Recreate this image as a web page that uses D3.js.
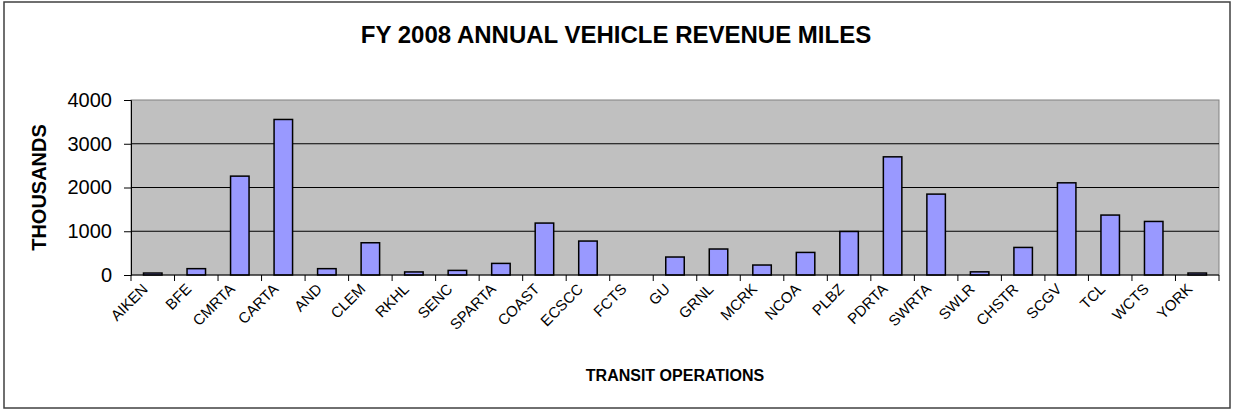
<!DOCTYPE html>
<html>
<head>
<meta charset="utf-8">
<script src="https://cdn.jsdelivr.net/npm/d3@7"></script>
<style>
  body { margin: 0; background: #fff; }
  text { font-family: Arial, "Liberation Sans", sans-serif; }
</style>
</head>
<body>
<div id="chart"></div>
<script>
// Data
const operators = ["AIKEN", "BFE", "CMRTA", "CARTA", "AND", "CLEM", "RKHL", "SENC", "SPARTA", "COAST",
  "ECSCC", "FCTS", "GU", "GRNL", "MCRK", "NCOA", "PLBZ", "PDRTA", "SWRTA", "SWLR",
  "CHSTR", "SCGV", "TCL", "WCTS", "YORK"];
const miles = [45, 145, 2260, 3555, 145, 737, 70, 105, 265, 1187,
  776, 0, 411, 594, 228, 516, 995, 2701, 1849, 72,
  630, 2107, 1370, 1224, 45];
const yTicks = [0, 1000, 2000, 3000, 4000];

const W = 1233, H = 411;
const margin = { top: 100, right: 14, bottom: 136, left: 131 },
      width = W - margin.left - margin.right,
      height = H - margin.top - margin.bottom;

const root = d3.select("#chart")
  .append("svg")
  .attr("width", W)
  .attr("height", H);

// outer frame
root.append("rect")
  .attr("x", 4).attr("y", 2)
  .attr("width", 1226).attr("height", 406)
  .attr("fill", "none")
  .attr("stroke", "#404040")
  .attr("stroke-width", 1.5);

root.append("text")
  .attr("x", 616).attr("y", 43)
  .attr("text-anchor", "middle")
  .attr("font-weight", "bold")
  .attr("font-size", 24)
  .text("FY 2008 ANNUAL VEHICLE REVENUE MILES");

const svg = root.append("g")
  .attr("transform", "translate(" + margin.left + "," + margin.top + ")");

const x = d3.scaleBand()
  .domain(operators)
  .range([0, width])
  .paddingInner(0.575)
  .paddingOuter(0.2875);

const y = d3.scaleLinear()
  .domain([0, 4000])
  .range([height, 0]);

// plot background
svg.append("rect")
  .attr("width", width)
  .attr("height", height)
  .attr("fill", "#c0c0c0")
  .attr("stroke", "#808080")
  .attr("stroke-width", 1);

// gridlines
svg.selectAll("line.grid")
  .data(yTicks.filter(d => d > 0 && d < 4000))
  .enter()
  .append("line")
  .attr("class", "grid")
  .attr("x1", 0).attr("x2", width)
  .attr("y1", d => y(d)).attr("y2", d => y(d))
  .attr("stroke", "#000")
  .attr("stroke-width", 1);

svg.selectAll("rect.bar")
  .data(miles)
  .enter()
  .append("rect")
  .attr("class", "bar")
  .attr("x", (d, i) => x(operators[i]))
  .attr("y", d => y(d))
  .attr("width", x.bandwidth())
  .attr("height", d => height - y(d))
  .attr("fill", "#9999ff")
  .attr("stroke", "#000")
  .attr("stroke-width", 1.5);

// y axis
const yAxis = svg.append("g")
  .call(d3.axisLeft(y).tickValues(yTicks).tickSize(7).tickPadding(12).tickFormat(d3.format("d")));
yAxis.selectAll("text").attr("font-size", 20).attr("fill", "#000").style("font-family", "Arial, 'Liberation Sans', sans-serif");
yAxis.selectAll("line").attr("stroke", "#000");
yAxis.select(".domain").attr("stroke", "#000");

// x axis: ticks at category boundaries
const step = x.step();
const edges = d3.range(operators.length + 1).map(i => i * step);
const xAxis = svg.append("g").attr("transform", "translate(0," + height + ")");
xAxis.append("line")
  .attr("x1", 0).attr("x2", width)
  .attr("stroke", "#000");
xAxis.selectAll("line.tick")
  .data(edges)
  .enter()
  .append("line")
  .attr("class", "tick")
  .attr("x1", d => d).attr("x2", d => d)
  .attr("y1", 0).attr("y2", 6)
  .attr("stroke", "#000");
xAxis.selectAll("text")
  .data(operators)
  .enter()
  .append("text")
  .attr("transform", d => "translate(" + (x(d) + x.bandwidth() / 2 - 4) + ",15) rotate(-45)")
  .attr("text-anchor", "end")
  .attr("font-size", 15)
  .text(d => d);

svg.append("text")
  .attr("transform", "translate(-85," + height / 2 + ") rotate(-90)")
  .attr("text-anchor", "middle")
  .attr("font-weight", "bold")
  .attr("font-size", 20)
  .text("THOUSANDS");

svg.append("text")
  .attr("x", width / 2)
  .attr("y", 281)
  .attr("text-anchor", "middle")
  .attr("font-weight", "bold")
  .attr("font-size", 16)
  .text("TRANSIT OPERATIONS");
</script>
</body>
</html>
